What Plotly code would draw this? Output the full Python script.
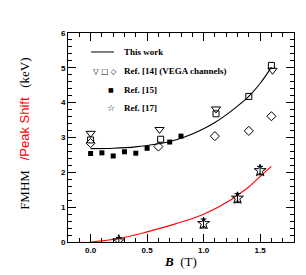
import plotly.graph_objects as go

# ---- data ----
curve_b = [0.0, 0.2, 0.4, 0.6, 0.7, 0.8, 0.9, 1.0, 1.1, 1.2, 1.3, 1.4, 1.5, 1.6]
curve_fwhm = [2.68, 2.69, 2.73, 2.82, 2.88, 2.98, 3.10, 3.25, 3.43, 3.65, 3.90, 4.18, 4.55, 5.02]

shift_b = [0.0, 0.25, 0.5, 0.75, 1.0, 1.25, 1.3, 1.4, 1.5, 1.6]
shift_val = [0.0, 0.10, 0.29, 0.52, 0.80, 1.23, 1.35, 1.58, 1.88, 2.17]

ref14_tri_b = [0.0, 0.61, 1.11, 1.61]
ref14_tri = [3.12, 3.23, 3.82, 4.93]
ref14_sq_b = [0.0, 0.62, 1.11, 1.40, 1.60]
ref14_sq = [2.93, 2.95, 3.68, 4.18, 5.07]
ref14_dia_b = [0.0, 0.60, 1.10, 1.40, 1.60]
ref14_dia = [2.84, 2.74, 3.04, 3.19, 3.61]

ref15_b = [0.0, 0.1, 0.2, 0.3, 0.4, 0.5, 0.7, 0.8]
ref15 = [2.54, 2.56, 2.47, 2.59, 2.55, 2.69, 2.87, 3.04]

ref17_b = [0.25, 1.0, 1.3, 1.5]
ref17 = [0.03, 0.53, 1.26, 2.05]
ref17_err = [0.10, 0.13, 0.13, 0.12]

x_ticks = [0.0, 0.5, 1.0, 1.5]
x_ticklabels = ["0.0", "0.5", "1.0", "1.5"]
y_ticks = [0, 1, 2, 3, 4, 5, 6]

SERIF = "Liberation Serif"
SANS = "Liberation Sans"

fig = go.Figure()
fig.add_trace(go.Scatter(x=curve_b, y=curve_fwhm, mode="lines", line=dict(color="black", width=1.1, shape="spline")))
fig.add_trace(go.Scatter(x=shift_b, y=shift_val, mode="lines", line=dict(color="red", width=1.1, shape="spline")))
fig.add_trace(go.Scatter(x=ref14_tri_b, y=ref14_tri, mode="markers",
                         marker=dict(symbol="triangle-down-open", size=8, color="black", line=dict(width=1))))
fig.add_trace(go.Scatter(x=ref14_sq_b, y=ref14_sq, mode="markers",
                         marker=dict(symbol="square-open", size=6, color="black", line=dict(width=1))))
fig.add_trace(go.Scatter(x=ref14_dia_b, y=ref14_dia, mode="markers",
                         marker=dict(symbol="diamond-open", size=7, color="black", line=dict(width=1))))
fig.add_trace(go.Scatter(x=ref15_b, y=ref15, mode="markers",
                         marker=dict(symbol="square", size=5, color="black")))
fig.add_trace(go.Scatter(x=ref17_b, y=ref17, mode="markers",
                         error_y=dict(type="data", array=ref17_err, color="black", thickness=1, width=3),
                         marker=dict(symbol="star-open", size=9, color="black", line=dict(width=1))))

axis_common = dict(showline=True, linecolor="black", linewidth=1, mirror="allticks",
                   ticks="inside", ticklen=8, tickwidth=1, tickcolor="black",
                   showgrid=False, zeroline=False,
                   tickfont=dict(family=SANS, size=8, color="black", weight="bold"))

fig.update_xaxes(range=[-0.2, 1.8], tickvals=x_ticks, ticktext=x_ticklabels,
                 minor=dict(ticks="inside", ticklen=4, dtick=0.1, tick0=0, tickcolor="black", showgrid=False),
                 **axis_common)
fig.update_yaxes(range=[0, 6], tickvals=y_ticks,
                 minor=dict(ticks="inside", ticklen=4, dtick=0.2, tick0=0, tickcolor="black", showgrid=False),
                 **axis_common)

def px_x(p):
    return (p - 60) / 226.0

def px_y(p):
    return (234.3 - p) / 209.3

annots = []
legend_font = dict(family=SERIF, size=9, color="black", weight="bold")
# legend entries
fig.add_shape(type="line", xref="paper", yref="paper", x0=px_x(83), x1=px_x(106), y0=px_y(44), y1=px_y(44),
              line=dict(color="black", width=1))
for txt, yy in [("This work", 44), ("Ref. [14] (VEGA channels)", 63.3), ("Ref. [15]", 81.7), ("Ref. [17]", 100)]:
    annots.append(dict(text=txt, xref="paper", yref="paper", x=px_x(114), y=px_y(yy),
                       xanchor="left", yanchor="middle", showarrow=False, font=legend_font))
sym_font = dict(family="DejaVu Sans", size=7.5, color="black")
annots.append(dict(text="▽ □ ◇", xref="paper", yref="paper", x=px_x(96.5), y=px_y(63.3),
                   xanchor="center", yanchor="middle", showarrow=False, font=sym_font))
annots.append(dict(text="■", xref="paper", yref="paper", x=px_x(102.7), y=px_y(81.7),
                   xanchor="center", yanchor="middle", showarrow=False, font=dict(family="DejaVu Sans", size=6, color="black")))
annots.append(dict(text="☆", xref="paper", yref="paper", x=px_x(103), y=px_y(100),
                   xanchor="center", yanchor="middle", showarrow=False, font=dict(family="DejaVu Sans", size=9, color="black", weight="bold")))
# axis titles
annots.append(dict(text="<b><i>B</i></b>  (T)", xref="paper", yref="paper", x=px_x(172), y=px_y(254),
                   xanchor="center", yanchor="middle", showarrow=False, font=dict(family=SERIF, size=13, color="black")))
annots.append(dict(text="FMHM   <span style='color:red;font-family:Liberation Sans'>/Peak Shift</span>   (keV)",
                   xref="paper", yref="paper", x=px_x(17), y=px_y(126), textangle=-90,
                   xanchor="center", yanchor="middle", showarrow=False, font=dict(family=SERIF, size=13, color="black")))

fig.update_layout(width=306, height=275, margin=dict(l=60, r=20, t=25, b=41),
                  paper_bgcolor="white", plot_bgcolor="white", showlegend=False,
                  annotations=annots)

fig.write_html("out.html")
